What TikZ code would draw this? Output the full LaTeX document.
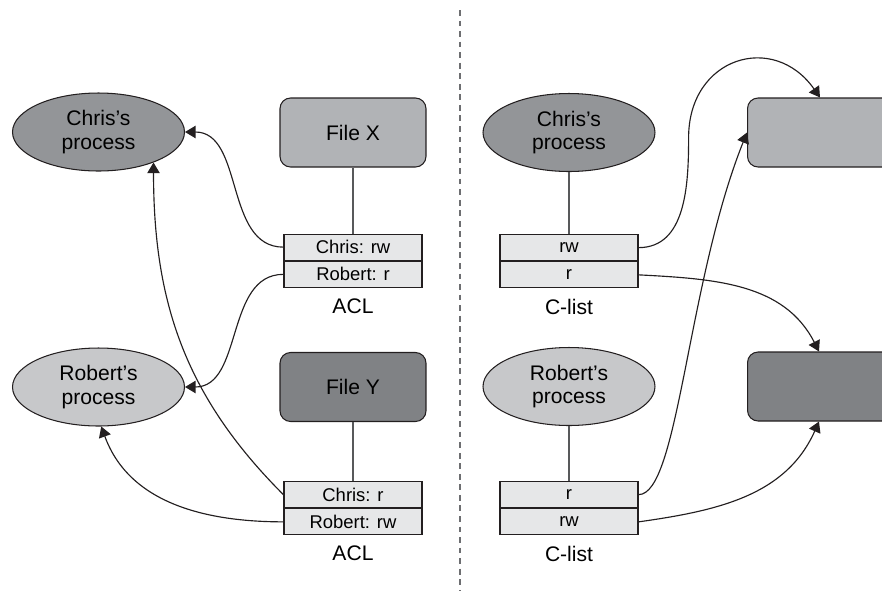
\documentclass[tikz,border=0pt]{standalone}
\usepackage{fontspec}
\setmainfont{Liberation Sans}
\usetikzlibrary{arrows.meta, positioning, shapes.geometric}
\definecolor{sink}{HTML}{231F20}
\definecolor{stie}{HTML}{58595B}
\definecolor{sdash}{HTML}{6D6E71}
\definecolor{sprocA}{HTML}{939598}
\definecolor{sprocB}{HTML}{C7C8CA}
\definecolor{sfileA}{HTML}{B1B3B6}
\definecolor{sfileB}{HTML}{808285}
\definecolor{scell}{HTML}{E6E7E8}
\tikzset{
  >={Triangle[length=6pt,width=7pt]},
  font=\fontsize{12}{13.3}\selectfont,
  proc/.style={
    ellipse, draw=sink, fill=#1, line width=0.6pt, align=center,
    minimum width=3.44cm, minimum height=1.56cm, inner sep=0pt
  },
  filebox/.style={
    rectangle, draw=sink, fill=#1, line width=0.6pt, rounded corners=6pt,
    minimum width=2.92cm, minimum height=1.38cm
  },
  cell/.style={
    draw=sink, fill=scell, line width=0.7pt, minimum width=2.76cm,
    minimum height=0.52cm, inner sep=0pt, font=\fontsize{10.5}{12}\selectfont
  },
  tie/.style={draw=stie, line width=0.8pt},
  arr/.style={->, draw=sink, line width=0.65pt},
  divider/.style={draw=sdash, line width=1.1pt, dash pattern=on 3.3pt off 2.7pt},
  lab/.style={inner sep=0pt}
}

\begin{document}
\begin{tikzpicture}[x=0.02cm, y=0.02cm]
  \path[use as bounding box, clip] (0,0) rectangle (882,-593);

  \coordinate (divTop) at (460,-10);
  \coordinate (divBot) at (460,-590);
  \draw[divider] (divTop) -- (divBot);

  \node[proc=sprocA] (chrisL) at (98.5,-132) {Chris’s\\process};
  \node[proc=sprocB] (robL) at (98.5,-387) {Robert’s\\process};
  \node[filebox=sfileA] (fileX) at (353,-132.5) {File X};
  \node[filebox=sfileB] (fileY) at (353,-387) {File Y};
  \node[cell, below=1.32cm of fileX] (xChris) {Chris: rw};
  \node[cell, below=0pt of xChris] (xRob) {Robert: r};
  \node[lab, below=5.8pt of xRob] (aclX) {ACL};
  \node[cell, below=1.18cm of fileY] (yChris) {Chris: r};
  \node[cell, below=0pt of yChris] (yRob) {Robert: rw};
  \node[lab, below=5.8pt of yRob] (aclY) {ACL};
  \draw[tie] (fileX) -- (xChris);
  \draw[tie] (fileY) -- (yChris);

  \node[proc=sprocA] (chrisR) at (569,-132.5) {Chris’s\\process};
  \node[proc=sprocB] (robR) at (569,-386.5) {Robert’s\\process};
  \node[cell, below=1.24cm of chrisR] (cRw) {rw};
  \node[cell, below=0pt of cRw] (cR) {r};
  \node[lab, below=5.8pt of cR] (clistC) {C-list};
  \node[cell, below=1.1cm of robR] (rR) {r};
  \node[cell, below=0pt of rR] (rRw) {rw};
  \node[lab, below=5.8pt of rRw] (clistR) {C-list};
  \node[filebox=sfileA, anchor=west, minimum width=4cm] (objA) at (747,-132.5) {};
  \node[filebox=sfileB, anchor=west, minimum width=4cm] (objB) at (747,-386.5) {};
  \draw[tie] (chrisR) -- (cRw);
  \draw[tie] (robR) -- (rR);

  \draw[arr] (xChris.west) to[out=180,in=0] (chrisL.east);
  \draw[arr] (xRob.west) to[out=180,in=0] (robL.east);
  \draw[arr] (yChris.west) to[out=135,in=-90] (chrisL.-29);
  \draw[arr] (yRob.west) to[out=180,in=-70] (robL.-86);

  \draw[arr] (cRw.east) to[out=0,in=-90] ++(50,110)
    to[out=90,in=125,looseness=1.5] ([xshift=1.46cm]objA.north west);
  \draw[arr] (rR.east) .. controls +(40,0) and +(-60,-150) .. (objA.west);
  \draw[arr] (cR.east) to[out=-3,in=117] ([xshift=1.44cm]objB.north west);
  \draw[arr] (rRw.east) to[out=8,in=-114] ([xshift=1.44cm]objB.south west);
\end{tikzpicture}
\end{document}
